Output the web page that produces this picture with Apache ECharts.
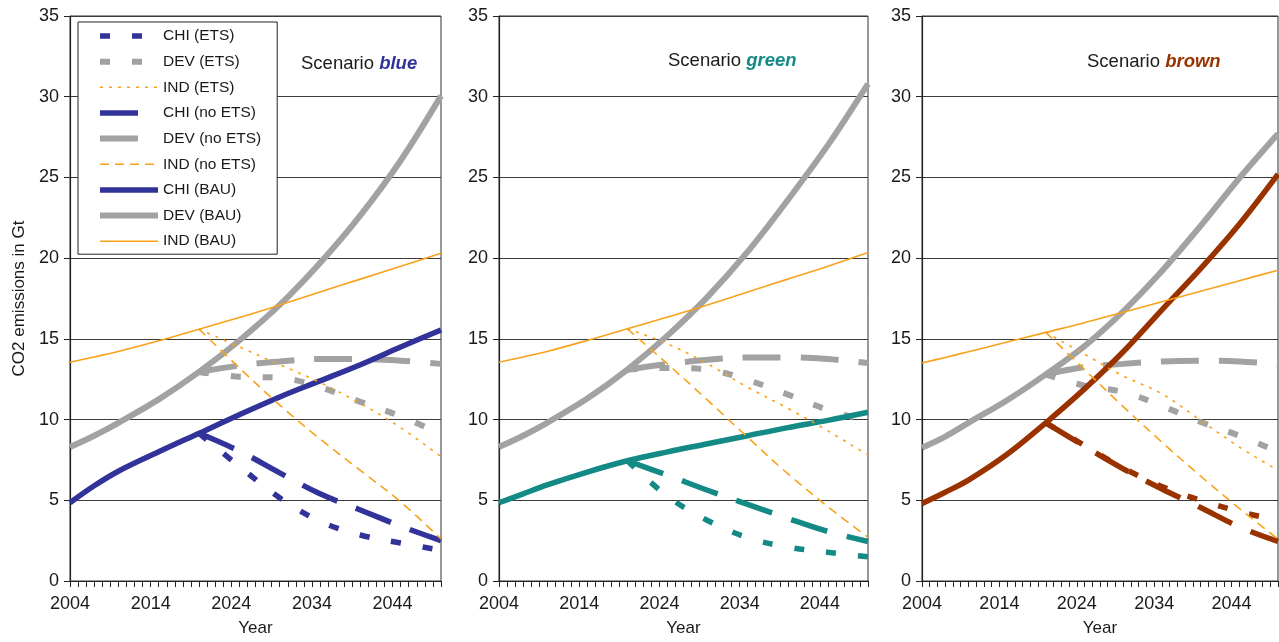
<!DOCTYPE html>
<html style="height: 100%">
  <head>
    <meta charset="UTF-8" />
    <title>CO2 emissions scenarios</title>
    <script src="https://cdn.jsdelivr.net/npm/echarts/dist/echarts.min.js"></script>
  </head>
  <body style="height: 100%; margin: 0; background: #fff">
    <div id="main" style="width: 1279px; height: 642px"></div>
    <script>
      // x axis categories (one per year) and the years each series is read at
      var years = [];
      for (var yr = 2004; yr <= 2050; yr++) years.push(String(yr));
      var bauYears = [2004, 2007, 2010, 2015, 2020, 2025, 2030, 2035, 2040, 2045, 2050];
      var policyYears = [2020, 2025, 2030, 2035, 2040, 2045, 2050];
      var yTicks = [0, 5, 10, 15, 20, 25, 30, 35];

      // Scenario blue
      var blueChiBau = [4.85, 5.9, 6.8, 8.0, 9.15, 10.3, 11.4, 12.4, 13.4, 14.5, 15.55];
      var blueDevBau = [8.3, 9.0, 9.8, 11.25, 12.95, 14.9, 17.1, 19.7, 22.65, 26.05, 30.05];
      var blueIndBau = [13.55, 13.88, 14.22, 14.88, 15.6, 16.32, 17.1, 17.9, 18.7, 19.5, 20.3];
      var blueChiEts = [9.15, 7.1, 5.15, 3.7, 2.85, 2.35, 1.9];
      var blueDevEts = [12.95, 12.65, 12.6, 12.0, 11.1, 10.2, 9.1];
      var blueIndEts = [15.6, 14.5, 13.4, 12.3, 11.0, 9.5, 7.7];
      var blueChiNo = [9.15, 8.05, 6.7, 5.4, 4.4, 3.4, 2.5];
      var blueDevNo = [12.95, 13.35, 13.6, 13.75, 13.75, 13.65, 13.45];
      var blueIndNo = [15.6, 13.2, 10.9, 8.8, 6.85, 4.9, 2.6];

      // Scenario green
      var greenChiBau = [4.85, 5.4, 5.95, 6.75, 7.45, 8.0, 8.5, 9.0, 9.5, 9.95, 10.45];
      var greenDevBau = [8.3, 9.0, 9.8, 11.3, 13.1, 15.2, 17.6, 20.4, 23.6, 27.0, 30.8];
      var greenIndBau = [13.55, 13.88, 14.22, 14.9, 15.62, 16.35, 17.1, 17.9, 18.7, 19.5, 20.35];
      var greenChiEts = [7.45, 5.25, 3.75, 2.68, 2.1, 1.78, 1.5];
      var greenDevEts = [13.1, 13.2, 13.1, 12.45, 11.55, 10.6, 9.9];
      var greenIndEts = [15.62, 14.7, 13.45, 12.0, 10.7, 9.3, 7.8];
      var greenChiNo = [7.45, 6.55, 5.62, 4.75, 3.88, 3.07, 2.45];
      var greenDevNo = [13.1, 13.45, 13.7, 13.85, 13.85, 13.75, 13.5];
      var greenIndNo = [15.62, 13.45, 11.2, 8.9, 6.65, 4.6, 2.7];

      // Scenario brown
      var brownChiBau = [4.8, 5.5, 6.25, 7.85, 9.8, 11.9, 14.2, 16.8, 19.35, 22.1, 25.2];
      var brownDevBau = [8.26, 8.95, 9.8, 11.2, 12.8, 14.55, 16.7, 19.2, 22.0, 24.95, 27.7];
      var brownIndBau = [13.5, 13.85, 14.2, 14.8, 15.4, 16.0, 16.65, 17.3, 17.95, 18.6, 19.25];
      var brownChiEts = [9.8, 8.4, 7.0, 5.85, 5.0, 4.3, 3.75];
      var brownDevEts = [12.8, 12.1, 11.7, 10.85, 9.85, 9.0, 8.0];
      var brownIndEts = [15.4, 14.05, 12.7, 11.6, 9.95, 8.3, 6.85];
      var brownChiNo = [9.8, 8.35, 6.95, 5.7, 4.55, 3.35, 2.45];
      var brownDevNo = [12.8, 13.25, 13.45, 13.6, 13.65, 13.6, 13.45];
      var brownIndNo = [15.4, 13.1, 10.8, 8.6, 6.5, 4.5, 2.6];

      var GRAY = '#a2a2a2';
      var ORANGE = '#f8a21c';
      var BLUE = '#31339a';
      var TEAL = '#138a86';
      var BROWN = '#9a3200';
      var FONT = '"Liberation Sans", Arial, sans-serif';

      var SHORT = [10, 22];
      var LONG = [38, 20];
      var DOT = [3, 6];
      var DASH = [9, 6];

      var panels = [
        { left: 70, width: 371, color: BLUE, word: 'blue', tx: 296, ty: 49,
          chi: [blueChiEts, blueChiNo, blueChiBau], dev: [blueDevEts, blueDevNo, blueDevBau], ind: [blueIndEts, blueIndNo, blueIndBau] },
        { left: 499, width: 369, color: TEAL, word: 'green', tx: 663, ty: 46,
          chi: [greenChiEts, greenChiNo, greenChiBau], dev: [greenDevEts, greenDevNo, greenDevBau], ind: [greenIndEts, greenIndNo, greenIndBau] },
        { left: 922, width: 356, color: BROWN, word: 'brown', tx: 1082, ty: 47,
          chi: [brownChiEts, brownChiNo, brownChiBau], dev: [brownDevEts, brownDevNo, brownDevBau], ind: [brownIndEts, brownIndNo, brownIndBau] }
      ];

      function pairs(xs, vals) {
        return vals.map(function (v, i) { return [String(xs[i]), v]; });
      }

      function line(name, idx, xs, vals, color, width, type) {
        return {
          name: name,
          type: 'line',
          xAxisIndex: idx,
          yAxisIndex: idx,
          data: pairs(xs, vals),
          symbol: 'none',
          smooth: 0.35,
          silent: true,
          itemStyle: { color: color },
          lineStyle: { color: color, width: width, type: type, cap: 'butt' }
        };
      }

      var grids = [], xAxes = [], yAxes = [], series = [], titles = [];
      var tickStyle = { fontSize: 18, color: '#1a1a1a', fontFamily: FONT };

      panels.forEach(function (p, i) {
        grids.push({ left: p.left, width: p.width, top: 16, bottom: 58, show: true, borderColor: '#333', borderWidth: 1 });
        xAxes.push({
          type: 'category', gridIndex: i, data: years, boundaryGap: false,
          name: 'Year', nameLocation: 'middle', nameGap: 39,
          nameTextStyle: { fontSize: 17, color: '#1a1a1a', fontFamily: FONT },
          axisLine: { lineStyle: { color: '#222', width: 1.2 } },
          axisTick: { interval: 0, length: 6, lineStyle: { color: '#222' } },
          axisLabel: Object.assign({ interval: 9, margin: 14 }, tickStyle),
          splitLine: { show: false }
        });
        yAxes.push({
          type: 'value', gridIndex: i, min: yTicks[0], max: yTicks[yTicks.length - 1], interval: 5,
          name: i === 0 ? 'CO2 emissions in Gt' : '', nameLocation: 'middle', nameGap: 42,
          nameTextStyle: { fontSize: 17, color: '#1a1a1a', fontFamily: FONT },
          axisLine: { show: true, lineStyle: { color: '#222', width: 1.2 } },
          axisTick: { show: true, length: 6, lineStyle: { color: '#222' } },
          axisLabel: Object.assign({ margin: 11 }, tickStyle),
          splitLine: { lineStyle: { color: '#3a3a3a', width: 1.2 } }
        });
        titles.push({
          text: '{a|Scenario }{b|' + p.word + '}',
          left: p.tx, top: p.ty,
          textStyle: {
            fontWeight: 'normal',
            rich: {
              a: { fontSize: 18.5, color: '#1a1a1a', fontWeight: 'normal', fontFamily: FONT },
              b: { fontSize: 18.5, color: p.color, fontWeight: 'bold', fontStyle: 'italic', fontFamily: FONT }
            }
          }
        });
        series.push(
          line('DEV (BAU)', i, bauYears, p.dev[2], GRAY, 6, 'solid'),
          line('DEV (no ETS)', i, policyYears, p.dev[1], GRAY, 6, LONG),
          line('DEV (ETS)', i, policyYears, p.dev[0], GRAY, 6, SHORT),
          line('CHI (BAU)', i, bauYears, p.chi[2], p.color, 5.5, 'solid'),
          line('CHI (no ETS)', i, policyYears, p.chi[1], p.color, 5.5, LONG),
          line('CHI (ETS)', i, policyYears, p.chi[0], p.color, 5.5, SHORT),
          line('IND (BAU)', i, bauYears, p.ind[2], ORANGE, 1.6, 'solid'),
          line('IND (no ETS)', i, policyYears, p.ind[1], ORANGE, 1.6, DASH),
          line('IND (ETS)', i, policyYears, p.ind[0], ORANGE, 1.6, DOT)
        );
      });

      var chartDom = document.getElementById('main');
      var myChart = echarts.init(chartDom, null, { renderer: 'canvas' });
      var option = {
        animation: false,
        backgroundColor: '#fff',
        textStyle: { fontFamily: FONT },
        title: titles,
        legend: {
          orient: 'vertical',
          left: 78,
          top: 22,
          padding: [6, 16, 5, 19],
          itemWidth: 58,
          itemHeight: 14,
          itemGap: 9.65,
          borderColor: '#222',
          borderWidth: 1,
          backgroundColor: '#fff',
          selectedMode: false,
          textStyle: { fontSize: 15.5, color: '#1a1a1a', fontFamily: FONT },
          itemStyle: { opacity: 0 },
          lineStyle: { width: 'inherit', type: 'inherit' },
          data: ['CHI (ETS)', 'DEV (ETS)', 'IND (ETS)', 'CHI (no ETS)', 'DEV (no ETS)', 'IND (no ETS)', 'CHI (BAU)', 'DEV (BAU)', 'IND (BAU)']
        },
        grid: grids,
        xAxis: xAxes,
        yAxis: yAxes,
        series: series
      };
      myChart.setOption(option);
    </script>
  </body>
</html>
